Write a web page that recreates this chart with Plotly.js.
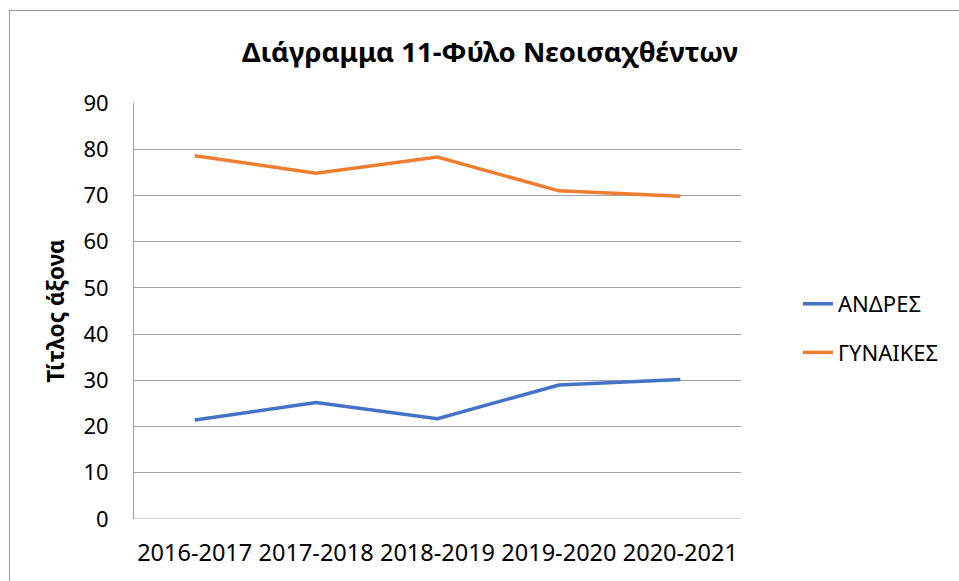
<!DOCTYPE html>
<html>
<head>
<meta charset="utf-8">
<script src="https://cdn.plot.ly/plotly-3.0.1.min.js"></script>
<style>
html,body{margin:0;padding:0;background:#fff;overflow:hidden;}
#chart{position:absolute;left:0;top:0;width:959px;height:581px;}
#frame{position:absolute;left:9px;top:10px;width:980px;height:600px;border:1px solid #9a9a9a;pointer-events:none;}
</style>
</head>
<body>
<div id="chart"></div>
<div id="frame"></div>
<script>
const categories = ["2016-2017","2017-2018","2018-2019","2019-2020","2020-2021"];
const andres = [21.4, 25.2, 21.7, 29.0, 30.2];
const gynaikes = [78.6, 74.8, 78.3, 71.0, 69.8];
const yTicks = [0,10,20,30,40,50,60,70,80,90];

const FONT = "Noto Sans, Open Sans, sans-serif";

const traces = [
  {x: categories, y: andres, name: "ΑΝΔΡΕΣ", type: "scatter", mode: "lines",
   line: {color: "#4472C4", width: 3.5}, legendgroup: "a"},
  {x: categories, y: gynaikes, name: "ΓΥΝΑΙΚΕΣ", type: "scatter", mode: "lines",
   line: {color: "#ED7D31", width: 3.5}, legendgroup: "b"}
];

const layout = {
  width: 959, height: 581,
  paper_bgcolor: "#fff", plot_bgcolor: "#fff",
  margin: {l: 134, r: 218, t: 103, b: 62},
  font: {family: FONT, color: "#000"},
  title: {text: "<b>Διάγραμμα 11-Φύλο Νεοισαχθέντων</b>", font: {family: FONT, size: 27.5, color: "#000"},
          x: 490/959, xanchor: "center", y: 1 - 52/581, yanchor: "middle"},
  xaxis: {type: "category", range: [-0.5, categories.length - 0.5],
          showgrid: false, zeroline: false, showline: false,
          tickfont: {family: FONT, size: 23.5, color: "#000"}, ticks: "", ticklabelstandoff: 17,
          fixedrange: true},
  yaxis: {range: [0, 90], tickvals: yTicks, ticktext: yTicks.map(String),
          showgrid: true, gridcolor: "#a3a3a3", gridwidth: 1,
          zeroline: false, showline: true, linecolor: "#a3a3a3", linewidth: 1,
          tickfont: {family: FONT, size: 22, color: "#000"}, ticks: "", ticklabelstandoff: 20,
          title: {text: "<b>Τίτλος άξονα</b>", font: {family: FONT, size: 22.5, color: "#000"}, standoff: 12},
          fixedrange: true},
  shapes: [{type: "line", xref: "paper", yref: "y", x0: 0, x1: 1, y0: 0, y1: 0,
            line: {color: "#a3a3a3", width: 1}}],
  showlegend: true,
  legend: {x: (798-134)/607, xanchor: "left", y: 0.458, yanchor: "middle",
           font: {family: FONT, size: 22, color: "#000"}, traceorder: "grouped",
           tracegroupgap: 17, bgcolor: "rgba(0,0,0,0)"}
};

Plotly.newPlot("chart", traces, layout, {staticPlot: true, displayModeBar: false});
</script>
</body>
</html>
